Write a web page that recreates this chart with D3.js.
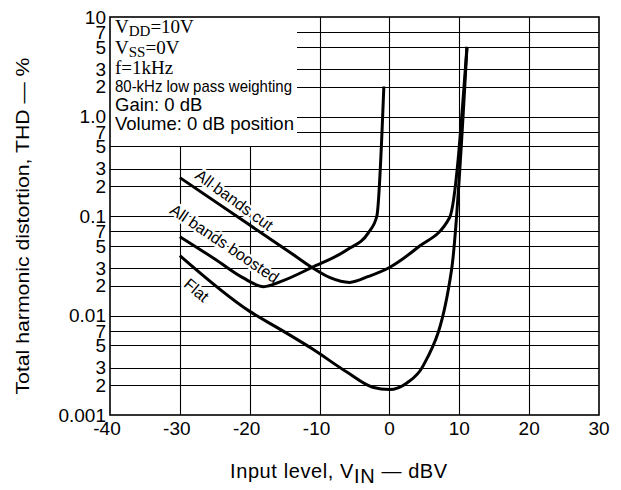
<!DOCTYPE html>
<html>
<head>
<meta charset="utf-8">
<script src="https://cdn.jsdelivr.net/npm/d3@7"></script>
<style>
  body { margin: 0; background: #fff; }
  text { font-family: "Liberation Sans", Arial, sans-serif; fill: #000; }
</style>
</head>
<body>
<div id="chart"></div>
<script>
// ---------------------------------------------------------------
//                        DATA
// ---------------------------------------------------------------
const x_ticks = [-40, -30, -20, -10, 0, 10, 20, 30];
const y_ticks = [10, 7, 5, 3, 2, 1, 0.7, 0.5, 0.3, 0.2, 0.1, 0.07, 0.05, 0.03, 0.02, 0.01, 0.007, 0.005, 0.003, 0.002, 0.001];
const y_tick_labels = ['10', '7', '5', '3', '2', '1.0', '7', '5', '3', '2', '0.1', '7', '5', '3', '2', '0.01', '7', '5', '3', '2', '0.001'];

// input level (dBV) / THD (%)
const cut_vin = [-30, -20, -14, -11.1, -8.5, -5.7, -3, 0, 4, 8.6, 11.1];
const cut_thd = [0.243, 0.081, 0.042, 0.0304, 0.024, 0.0215, 0.0247, 0.0304, 0.048, 0.096, 5.0];

const boost_vin = [-30, -25, -21, -18, -15.5, -11.1, -6, -3, -1.8, -0.8];
const boost_thd = [0.062, 0.037, 0.024, 0.0195, 0.022, 0.0304, 0.046, 0.068, 0.1, 2.0];

const flat_vin = [-30, -20, -15.7, -11, -6.1, -2.4, 0, 2.5, 4.8, 8.9, 11.1];
const flat_thd = [0.040, 0.011, 0.0073, 0.0046, 0.0027, 0.0019, 0.0018, 0.0021, 0.0031, 0.029, 5.0];

const curve_names = ['All bands cut', 'All bands boosted', 'Flat'];

// ---------------------------------------------------------------
//                        CONSTANTS FOR CHART SIZE
// ---------------------------------------------------------------
const TOTAL_WIDTH = 621;
const TOTAL_HEIGHT = 490;
const PLOT_LEFT = 110;
const PLOT_RIGHT = 599;
const PLOT_TOP = 17;
const PLOT_BOTTOM = 415;
const LEGEND_RIGHT = 297;   // the condition box hides the grid up to here
const CURVE_WIDTH = 3;

const svg = d3.select('#chart').append('svg')
    .attr('width', TOTAL_WIDTH)
    .attr('height', TOTAL_HEIGHT);

const scale_x = d3.scaleLinear().domain([-40, 30]).range([PLOT_LEFT, PLOT_RIGHT]);
const scale_y = d3.scaleLog().domain([0.001, 10]).range([PLOT_BOTTOM, PLOT_TOP]);

// ---------------------------------------------------------------
//                        GRID
// ---------------------------------------------------------------
const grid = svg.append('g').attr('id', 'grid')
    .attr('stroke', '#000').attr('stroke-width', 1.1);

grid.selectAll('line.h')
    .data(y_ticks.filter(d => d < 10 && d > 0.001))
    .join('line')
    .attr('class', 'h')
    .attr('x1', d => d > 0.5 ? LEGEND_RIGHT : PLOT_LEFT)
    .attr('x2', PLOT_RIGHT)
    .attr('y1', d => Math.round(scale_y(d)) + 0.5)
    .attr('y2', d => Math.round(scale_y(d)) + 0.5);

grid.selectAll('line.v')
    .data(x_ticks.filter(d => d > -40 && d < 30))
    .join('line')
    .attr('class', 'v')
    .attr('x1', d => Math.round(scale_x(d)) + 0.5)
    .attr('x2', d => Math.round(scale_x(d)) + 0.5)
    .attr('y1', d => scale_x(d) < LEGEND_RIGHT ? scale_y(0.5) : PLOT_TOP)
    .attr('y2', PLOT_BOTTOM);

// frame
svg.append('rect')
    .attr('x', PLOT_LEFT).attr('y', PLOT_TOP)
    .attr('width', PLOT_RIGHT - PLOT_LEFT)
    .attr('height', PLOT_BOTTOM - PLOT_TOP)
    .attr('fill', 'none').attr('stroke', '#000').attr('stroke-width', 1.6);

// ---------------------------------------------------------------
//                        AXIS LABELS
// ---------------------------------------------------------------
svg.append('g').selectAll('text')
    .data(y_ticks)
    .join('text')
    .attr('x', PLOT_LEFT - 4)
    .attr('y', d => scale_y(d))
    .attr('dy', '0.36em')
    .attr('text-anchor', 'end')
    .style('font-size', '19px')
    .text((d, i) => y_tick_labels[i]);

svg.append('g').selectAll('text')
    .data(x_ticks)
    .join('text')
    .attr('x', d => scale_x(d) - (d < 0 ? 3 : 0))
    .attr('y', PLOT_BOTTOM + 20)
    .attr('text-anchor', 'middle')
    .style('font-size', '19px')
    .text(d => d);

svg.append('text')
    .attr('transform', `translate(29, ${(PLOT_TOP + PLOT_BOTTOM) / 2 + 10}) rotate(-90)`)
    .attr('text-anchor', 'middle')
    .style('font-size', '19px')
    .attr('textLength', 337)
    .attr('lengthAdjust', 'spacingAndGlyphs')
    .text('Total harmonic distortion, THD — %');

const xTitle = svg.append('text')
    .attr('x', 230).attr('y', 478)
    .style('font-size', '20px')
    .style('letter-spacing', '0.6px');
xTitle.append('tspan').text('Input level, V');
xTitle.append('tspan').attr('dy', 5).text('IN');
xTitle.append('tspan').attr('dy', -5).text(' — dBV');

// ---------------------------------------------------------------
//                        CONDITIONS BOX
// ---------------------------------------------------------------
const serif = 'font-family: "Liberation Serif", "Times New Roman", serif; font-size: 19px';

const l1 = svg.append('text').attr('x', 115).attr('y', 33).attr('style', serif);
l1.append('tspan').text('V');
l1.append('tspan').attr('dy', 3).style('font-size', '15px').text('DD');
l1.append('tspan').attr('dy', -3).text('=10V');

const l2 = svg.append('text').attr('x', 115).attr('y', 54).attr('style', serif);
l2.append('tspan').text('V');
l2.append('tspan').attr('dy', 3).style('font-size', '15px').text('SS');
l2.append('tspan').attr('dy', -3).text('=0V');

svg.append('text').attr('x', 115).attr('y', 74).attr('style', serif).text('f=1kHz');

svg.append('text').attr('x', 115).attr('y', 92)
    .style('font-size', '17px')
    .attr('textLength', 177).attr('lengthAdjust', 'spacingAndGlyphs')
    .text('80-kHz low pass weighting');

svg.append('text').attr('x', 115).attr('y', 111)
    .style('font-size', '18.5px').text('Gain: 0 dB');

svg.append('text').attr('x', 115).attr('y', 130)
    .style('font-size', '18.5px').text('Volume: 0 dB position');

// ---------------------------------------------------------------
//                        CURVES
// ---------------------------------------------------------------
const lineGenerator = d3.line()
    .x(d => scale_x(d[0]))
    .y(d => scale_y(d[1]))
    .curve(d3.curveMonotoneX);

const series = [
    d3.zip(cut_vin, cut_thd),
    d3.zip(boost_vin, boost_thd),
    d3.zip(flat_vin, flat_thd)
];

// curve labels (with white halo that breaks the grid like the original)
const label_pos = [
    { vin: -22.2, thd: 0.145, angle: 36 },
    { vin: -23.6, thd: 0.053, angle: 34 },
    { vin: -27.6, thd: 0.018, angle: 40 }
];

svg.append('g').selectAll('text')
    .data(curve_names)
    .join('text')
    .attr('transform', (d, i) => `translate(${scale_x(label_pos[i].vin)},${scale_y(label_pos[i].thd)}) rotate(${label_pos[i].angle})`)
    .attr('text-anchor', 'middle')
    .attr('dy', '0.35em')
    .style('font-size', '16px')
    .style('stroke', '#fff')
    .style('stroke-width', 5)
    .style('stroke-linejoin', 'round')
    .style('paint-order', 'stroke')
    .text(d => d);

svg.append('g').selectAll('path')
    .data(series)
    .join('path')
    .attr('d', lineGenerator)
    .attr('fill', 'none')
    .attr('stroke', '#000')
    .attr('stroke-width', CURVE_WIDTH)
    .attr('stroke-linejoin', 'round');
</script>
</body>
</html>
